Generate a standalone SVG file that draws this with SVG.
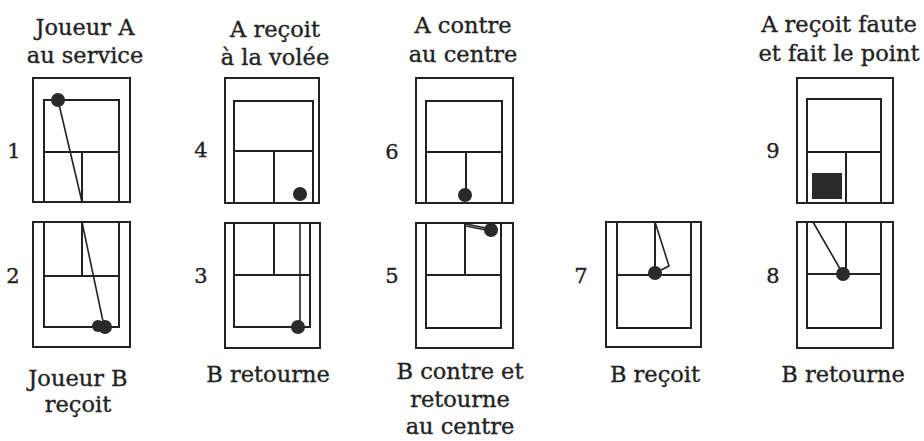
<svg xmlns="http://www.w3.org/2000/svg" width="924" height="441" viewBox="0 0 924 441">
<style>
.c{fill:none;stroke:#222;stroke-width:2}
.t{fill:none;stroke:#222;stroke-width:1.6}
.b{fill:#2a2a2a}
text{font-family:"DejaVu Serif","Liberation Serif",serif;fill:#222;stroke:#222;stroke-width:0.35;text-anchor:middle}
.l{font-size:22.5px}
.n{font-size:21px}
</style>
<rect width="924" height="441" fill="#fff"/>
<g id="labels-top" class="l">
<text x="85" y="35">Joueur A</text><text x="85" y="63">au service</text>
<text x="275" y="37">A reçoit</text><text x="275" y="65">à la volée</text>
<text x="463" y="33">A contre</text><text x="463" y="62">au centre</text>
<text x="839" y="32">A reçoit faute</text><text x="839" y="61">et fait le point</text>
</g>
<g id="labels-bottom" class="l">
<text x="78" y="386">Joueur B</text><text x="78" y="412">reçoit</text>
<text x="268" y="382">B retourne</text>
<text x="460" y="379">B contre et</text><text x="460" y="407">retourne</text><text x="460" y="434">au centre</text>
<text x="655" y="382">B reçoit</text>
<text x="843" y="382">B retourne</text>
</g>
<g id="numbers" class="n">
<text x="14" y="158">1</text><text x="13" y="283">2</text>
<text x="201" y="157">4</text><text x="201" y="283">3</text>
<text x="392" y="159">6</text><text x="392" y="283">5</text>
<text x="581" y="283">7</text>
<text x="773" y="158">9</text><text x="773" y="283">8</text>
</g>
<g id="court1">
<rect class="c" x="33" y="78" width="97" height="124"/>
<path class="c" d="M44 202V100H119V202M44 152H119M82 152V202"/>
<path class="t" d="M58 100L82 202"/>
<circle class="b" cx="58" cy="100" r="7"/>
</g>
<g id="court2">
<rect class="c" x="33" y="222" width="97" height="125"/>
<path class="c" d="M44 222V327H119V222M44 276H119M82 222V276"/>
<path class="t" d="M82 222L104 326"/>
<circle class="b" cx="98" cy="326" r="6"/>
<circle class="b" cx="105" cy="327" r="7"/>
</g>
<g id="court4">
<rect class="c" x="225" y="78" width="94" height="125"/>
<path class="c" d="M234 203V101H313V203M234 151H313M274 151V203"/>
<circle class="b" cx="300" cy="194" r="7"/>
</g>
<g id="court3">
<rect class="c" x="225" y="223" width="95" height="125"/>
<path class="c" d="M234 223V327H310V223M234 275H310M274 223V275"/>
<path class="t" d="M300 223V327"/>
<circle class="b" cx="298" cy="327" r="7"/>
</g>
<g id="court6">
<rect class="c" x="416" y="78" width="97" height="125"/>
<path class="c" d="M426 203V101H502V203M426 152H502M466 152V195"/>
<circle class="b" cx="465" cy="195" r="7"/>
</g>
<g id="court5">
<rect class="c" x="416" y="223" width="97" height="125"/>
<path class="c" d="M426 223V328H501V223M426 275H501M465 223V275"/>
<path class="t" d="M466 224L491 229M466 226L491 231"/>
<circle class="b" cx="491" cy="230" r="7"/>
</g>
<g id="court7">
<rect class="c" x="606" y="222" width="95" height="125"/>
<path class="c" d="M617 222V328H691V222M617 275H691M655 222V275"/>
<path class="t" d="M655 222L669 266L657 272"/>
<circle class="b" cx="655" cy="273" r="7"/>
</g>
<g id="court9">
<rect class="c" x="797" y="78" width="96" height="125"/>
<path class="c" d="M807 203V99H881V203M807 152H881M846 152V203"/>
<rect class="b" x="812" y="173" width="30" height="26"/>
</g>
<g id="court8">
<rect class="c" x="797" y="222" width="96" height="126"/>
<path class="c" d="M807 222V328H881V222M807 274H881M846 222V274"/>
<path class="t" d="M813 222L843 274"/>
<circle class="b" cx="843" cy="274" r="7"/>
</g>
</svg>
